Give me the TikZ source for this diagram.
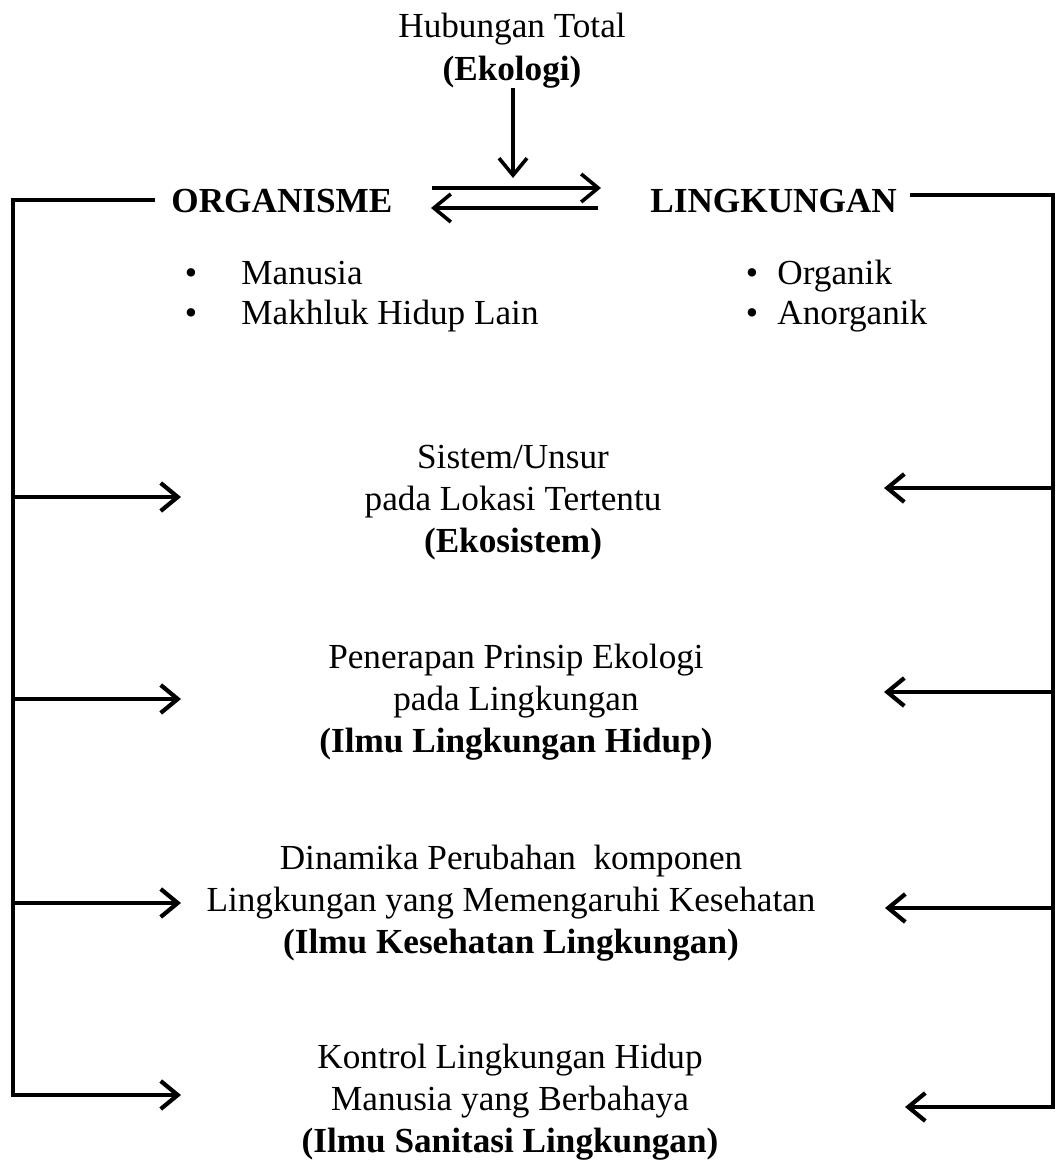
\documentclass[tikz,border=0pt]{standalone}
\usepackage{fontspec}
\setmainfont{Liberation Serif}
\usetikzlibrary{arrows.meta}
\begin{document}
\begin{tikzpicture}[x=0.5pt,y=-0.5pt,
  txt/.style={font=\fontsize{17.6}{21}\selectfont, inner sep=0pt, anchor=base},
  btxt/.style={txt, font=\fontsize{17.6}{21}\selectfont\bfseries},
  ltxt/.style={txt, anchor=base west},
  frame/.style={line width=2.3pt, line cap=rect},
  arr/.style={line width=2.1pt, -{Straight Barb[length=8.5pt,width=14pt]}},
  darr/.style={line width=1.8pt, -{Straight Barb[length=8.5pt,width=14pt]}}]
\useasboundingbox (0,0) rectangle (1058,1161);
% top
\node[txt]  (hub) at (512,38) {Hubungan Total};
\node[btxt] (eko) at (512,81) {(Ekologi)};
\node[btxt, anchor=base west] (org) at (171,212) {ORGANISME};
\node[btxt, anchor=base west] (lin) at (650,212) {LINGKUNGAN};
% lists
\node[txt] (b1) at (191,284) {\textbullet};
\node[ltxt] (man) at (241,284) {Manusia};
\node[txt] (b2) at (191,324) {\textbullet};
\node[ltxt] (mak) at (241,324) {Makhluk Hidup Lain};
\node[txt] (b3) at (752,284) {\textbullet};
\node[ltxt] (orgk) at (777,284) {Organik};
\node[txt] (b4) at (752,324) {\textbullet};
\node[ltxt] (anorg) at (777,324) {Anorganik};
% blocks
\node[txt]  (s1) at (513,468) {Sistem/Unsur};
\node[txt]  (s2) at (513,510) {pada Lokasi Tertentu};
\node[btxt] (s3) at (513,552) {(Ekosistem)};
\node[txt]  (p1) at (516,668) {Penerapan Prinsip Ekologi};
\node[txt]  (p2) at (516,710) {pada Lingkungan};
\node[btxt] (p3) at (516,752) {(Ilmu Lingkungan Hidup)};
\node[txt]  (d1) at (511,869) {Dinamika Perubahan\ \ komponen};
\node[txt]  (d2) at (511,911) {Lingkungan yang Memengaruhi Kesehatan};
\node[btxt] (d3) at (511,953) {(Ilmu Kesehatan Lingkungan)};
\node[txt]  (k1) at (510,1068) {Kontrol Lingkungan Hidup};
\node[txt]  (k2) at (510,1110) {Manusia yang Berbahaya};
\node[btxt] (k3) at (510,1152) {(Ilmu Sanitasi Lingkungan)};
% coordinates
\coordinate (ekoTop) at (513,88);
\coordinate (ekoTip) at (513,178);
\coordinate (dA) at (432,188); \coordinate (dB) at (601,188);
\coordinate (dC) at (598,208); \coordinate (dD) at (431,208);
\coordinate (LT) at (153,200); \coordinate (LC) at (13,200); \coordinate (LB) at (13,1095);
\coordinate (RT) at (912,195); \coordinate (RC) at (1053,195); \coordinate (RB) at (1053,1107);
\coordinate (l1) at (13,497); \coordinate (l1e) at (181,497);
\coordinate (l2) at (13,699); \coordinate (l2e) at (181,699);
\coordinate (l3) at (13,903); \coordinate (l3e) at (181,903);
\coordinate (l4e) at (181,1095);
\coordinate (r1) at (1053,488); \coordinate (r1e) at (884,488);
\coordinate (r2) at (1053,692); \coordinate (r2e) at (884,692);
\coordinate (r3) at (1053,908); \coordinate (r3e) at (885,908);
\coordinate (r4e) at (905,1107);
% arrows
\draw[darr] (ekoTop) -- (ekoTip);
\draw[darr] (dA) -- (dB);
\draw[darr] (dC) -- (dD);
\draw[frame] (LT) -- (LC) -- (LB);
\draw[frame] (RT) -- (RC) -- (RB);
\draw[arr] (l1) -- (l1e);
\draw[arr] (l2) -- (l2e);
\draw[arr] (l3) -- (l3e);
\draw[arr] (LB) -- (l4e);
\draw[arr] (r1) -- (r1e);
\draw[arr] (r2) -- (r2e);
\draw[arr] (r3) -- (r3e);
\draw[arr] (RB) -- (r4e);
\end{tikzpicture}
\end{document}
